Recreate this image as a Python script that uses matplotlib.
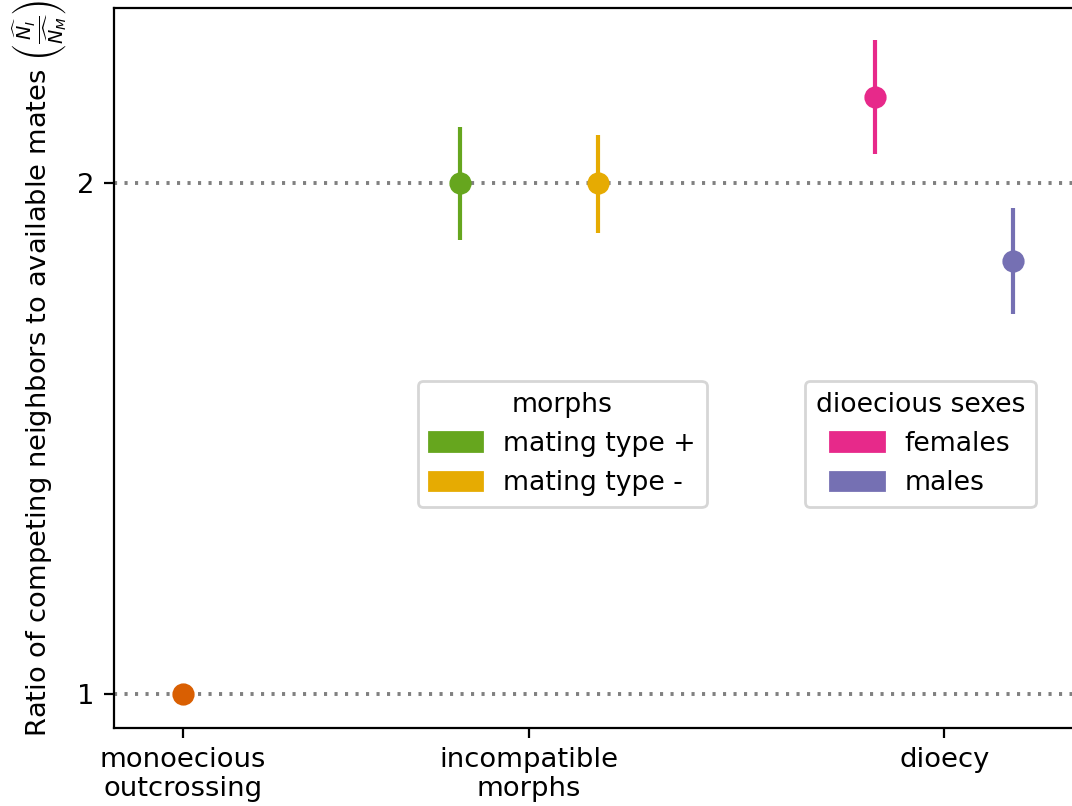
import matplotlib
matplotlib.use("Agg")
import matplotlib.pyplot as plt
from matplotlib.patches import Patch

plt.rcParams["font.size"] = 9.6

# categories on x axis
groups = ["monoecious\noutcrossing", "incompatible\nmorphs", "dioecy"]
group_pos = [0, 1, 2.2]

# points: (group index, offset side, estimate, lower, upper)
labels = ["monoecious", "mating type +", "mating type -", "females", "males"]
group_idx = [0, 1, 1, 2, 2]
side = [0, -1, 1, -1, 1]
estimate = [1.0, 2.0, 2.0, 2.168, 1.847]
lower = [1.0, 1.888, 1.902, 2.057, 1.744]
upper = [1.0, 2.110, 2.094, 2.280, 1.951]
colors = ["#d95f02", "#66a61e", "#e6ab02", "#e7298a", "#7570b3"]

offset = 0.2
ref_lines = [1, 2]

fig = plt.figure(figsize=(5.36, 4.03), dpi=200)
ax = fig.add_axes([114 / 1072, 1 - 728 / 806, (1085 - 114) / 1072, 720 / 806])

for y in ref_lines:
    ax.axhline(y, color="grey", lw=1.4, ls=(0, (0.8, 1.9)), zorder=1)

for g, s, est, lo, hi, c in zip(group_idx, side, estimate, lower, upper, colors):
    x = group_pos[g] + s * offset
    if hi > lo:
        ax.vlines(x, lo, hi, color=c, lw=1.5, zorder=2)
    ax.plot(x, est, "o", color=c, ms=7, zorder=3)

ax.set_xticks(group_pos)
ax.set_xticklabels(groups, linespacing=1.15, fontsize=9.9)
ax.set_yticks(ref_lines)
ax.set_yticklabels(["1", "2"], fontsize=9.9)
ax.set_xlim(-0.2, (1085 - 183) / 346)
ax.set_ylim(0.933, 2.342)
ax.spines["right"].set_visible(False)
ax.set_ylabel(r"Ratio of competing neighbors to available mates $\left(\frac{\widehat{N_I}}{\widehat{N_M}}\right)$",
              labelpad=3, fontsize=9.85)

leg1 = fig.legend(handles=[Patch(color=colors[1], label=labels[1]),
                           Patch(color=colors[2], label=labels[2])],
                  title="morphs", loc="upper left",
                  bbox_to_anchor=(418 / 1072, 1 - 381 / 806), borderaxespad=0,
                  title_fontsize=9.6)
leg2 = fig.legend(handles=[Patch(color=colors[3], label=labels[3]),
                           Patch(color=colors[4], label=labels[4])],
                  title="dioecious sexes", loc="upper left",
                  bbox_to_anchor=(805 / 1072, 1 - 381 / 806), borderaxespad=0,
                  title_fontsize=9.6)

fig.savefig("out.png", dpi=200)
